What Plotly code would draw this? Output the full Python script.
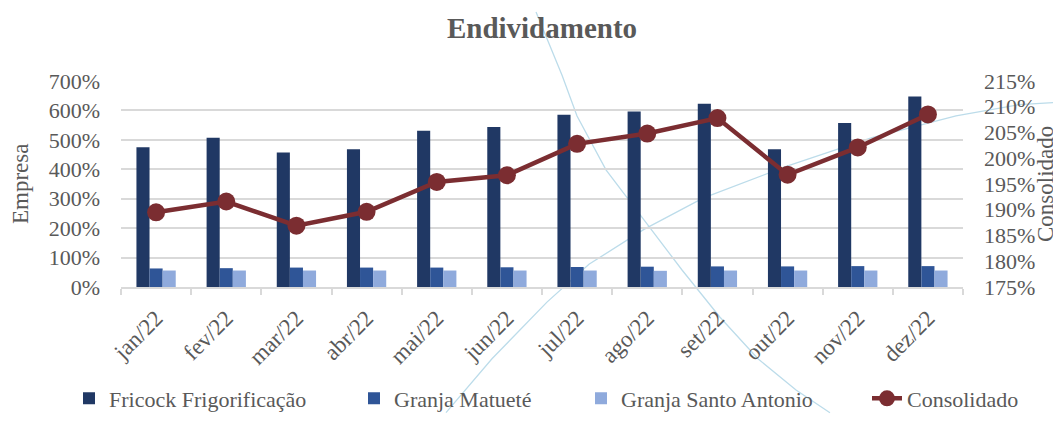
import plotly.graph_objects as go

meses = ["jan/22", "fev/22", "mar/22", "abr/22", "mai/22", "jun/22",
         "jul/22", "ago/22", "set/22", "out/22", "nov/22", "dez/22"]
fricock = [475, 507, 457, 468, 531, 544, 585, 596, 623, 468, 557, 647]
matuete = [63, 64, 66, 66, 66, 67, 68, 69, 70, 70, 71, 71]
santo_antonio = [56, 56, 56, 56, 56, 56, 56, 55, 56, 56, 56, 56]
consolidado = [189.5, 191.6, 186.9, 189.6, 195.4, 196.7, 202.8, 204.8, 207.8, 196.8, 202.1, 208.5]

FONT = "Liberation Serif, Times New Roman, serif"
GREY = "#595959"
W, H = 1061, 424
ML, MR, MT, MB = 113, 106, 73, 133
PW, PH = W - ML - MR, H - MT - MB

def px_x(px):
    return (px - ML) / PW

def px_y(py):
    return (H - MB - py) / PH

fig = go.Figure()
fig.add_trace(go.Bar(x=meses, y=fricock, name="Fricock Frigorificação", legend="legend",
                     marker=dict(color="#203864", line=dict(width=0))))
fig.add_trace(go.Bar(x=meses, y=matuete, name="Granja Matueté", legend="legend2",
                     marker=dict(color="#2F5597", line=dict(width=0))))
fig.add_trace(go.Bar(x=meses, y=santo_antonio, name="Granja Santo Antonio", legend="legend3",
                     marker=dict(color="#8FAADC", line=dict(width=0))))
fig.add_trace(go.Scatter(x=meses, y=consolidado, name="Consolidado", yaxis="y2", legend="legend4",
                         mode="lines+markers",
                         line=dict(color="#7B2D31", width=4.5),
                         marker=dict(color="#7B2D31", size=18)))

# faint decorative background curves (watermark-like), pixel space -> paper space
def to_paper(pts):
    return " ".join(("M" if i == 0 else "L") + f" {px_x(px):.4f},{px_y(py):.4f}"
                    for i, (px, py) in enumerate(pts))

curve_a = [(528, 0), (554, 67), (569, 110), (598, 167), (636, 220), (674, 273),
           (712, 323), (750, 367), (788, 400), (822, 424)]
curve_b = [(438, 424), (484, 367), (539, 307), (581, 267), (636, 230), (695, 197),
           (779, 163), (864, 133), (948, 110), (1011, 98), (1061, 95)]
shapes = [dict(type="path", xref="paper", yref="paper", path=to_paper(c),
               line=dict(color="#BCDCEA", width=1.3), layer="below")
          for c in (curve_a, curve_b)]

leg_font = dict(family=FONT, size=22, color=GREY)
def leg(x_px):
    return dict(orientation="h", x=px_x(x_px), xanchor="left", y=px_y(409), yanchor="middle",
                font=leg_font, itemwidth=30, bgcolor="rgba(0,0,0,0)", borderwidth=0)

fig.update_layout(
    width=W, height=H,
    margin=dict(l=ML, r=MR, t=MT, b=MB),
    paper_bgcolor="white", plot_bgcolor="rgba(0,0,0,0)",
    font=dict(family=FONT, color=GREY, size=20),
    title=dict(text="<b>Endividamento</b>", x=0.5, xref="paper", xanchor="center",
               y=1 - 20 / H, yanchor="middle",
               font=dict(family=FONT, size=29, color=GREY)),
    barmode="group", bargap=0.44, bargroupgap=0,
    showlegend=True,
    legend=leg(61), legend2=leg(346), legend3=leg(573), legend4=leg(859),
    xaxis=dict(range=[-0.5, 11.5], tickangle=-45, tickfont=dict(size=23, color=GREY),
               showgrid=False, showline=True, linecolor="#D9D9D9", linewidth=1.5,
               automargin=False, ticks="outside", tickson="boundaries", ticklen=6,
               tickcolor="#D9D9D9", tickwidth=1.5, ticklabelstandoff=7),
    yaxis=dict(range=[0, 700], dtick=100, ticksuffix="%", showgrid=True,
               gridcolor="#D9D9D9", gridwidth=1.5, zeroline=False, automargin=False,
               tickfont=dict(size=22, color=GREY), ticklabelstandoff=20),
    yaxis2=dict(range=[175, 215], dtick=5, ticksuffix="%", overlaying="y", side="right",
                showgrid=False, zeroline=False, automargin=False,
                tickfont=dict(size=22, color=GREY), ticklabelstandoff=20),
    shapes=shapes,
    annotations=[
        dict(text="Empresa", xref="paper", yref="paper", x=px_x(12), y=0.5,
             xanchor="center", yanchor="middle", textangle=-90, showarrow=False,
             font=dict(family=FONT, size=23, color=GREY)),
        dict(text="Consolidado", xref="paper", yref="paper", x=px_x(1037), y=0.5,
             xanchor="center", yanchor="middle", textangle=-90, showarrow=False,
             font=dict(family=FONT, size=23, color=GREY)),
    ],
)

fig.write_html("out.html")
